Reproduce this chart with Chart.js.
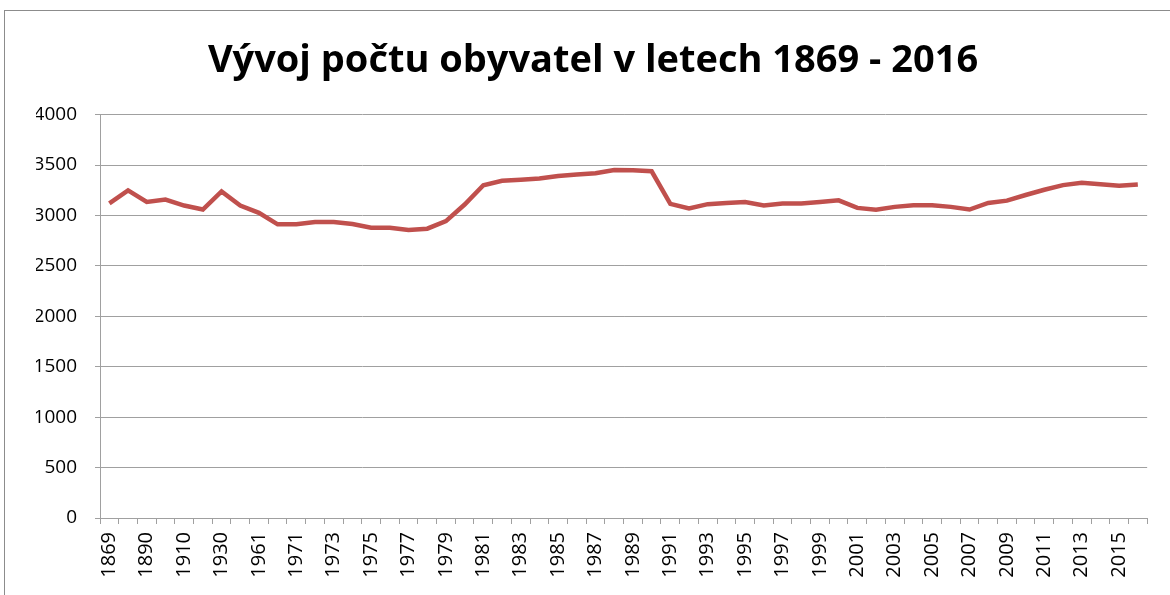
<!DOCTYPE html>
<html>
<head>
<meta charset="utf-8">
<script src="https://cdn.jsdelivr.net/npm/chart.js@4/dist/chart.umd.min.js"></script>
<style>
  html, body { margin: 0; padding: 0; background: #fff; }
  #wrap { width: 1170px; height: 595px; position: relative; }
</style>
</head>
<body>
<div id="wrap"><canvas id="popChart" width="1170" height="595"></canvas></div>
<script>
// Roky sčítání / evidence
const years = [
    '1869', '1880', '1890', '1900', '1910', '1921', '1930', '1950', '1961', '1970',
    '1971', '1972', '1973', '1974', '1975', '1976', '1977', '1978', '1979', '1980',
    '1981', '1982', '1983', '1984', '1985', '1986', '1987', '1988', '1989', '1990',
    '1991', '1992', '1993', '1994', '1995', '1996', '1997', '1998', '1999', '2000',
    '2001', '2002', '2003', '2004', '2005', '2006', '2007', '2008', '2009', '2010',
    '2011', '2012', '2013', '2014', '2015', '2016'
];

// Počet obyvatel
const population = [
    3120, 3248, 3134, 3157, 3098, 3059, 3238, 3098, 3026, 2912,
    2912, 2935, 2935, 2915, 2879, 2879, 2856, 2869, 2944, 3108,
    3300, 3343, 3353, 3366, 3392, 3405, 3418, 3451, 3448, 3438,
    3115, 3069, 3112, 3124, 3134, 3098, 3118, 3118, 3134, 3150,
    3075, 3056, 3085, 3101, 3101, 3085, 3059, 3124, 3147, 3203,
    3255, 3301, 3323, 3310, 3294, 3307
];

const yTicks = [0, 500, 1000, 1500, 2000, 2500, 3000, 3500, 4000];

const chartTitle = 'Vývoj počtu obyvatel v letech 1869 - 2016';

const FONT = "'Open Sans', 'Noto Sans', sans-serif";
const GRID = '#a0a0a0';

// rámeček kolem celého grafu
const frame = {
    id: 'frame',
    beforeDraw(chart) {
        const ctx = chart.ctx;
        ctx.save();
        ctx.strokeStyle = '#8c8c8c';
        ctx.lineWidth = 1;
        ctx.strokeRect(4.5, 10.5, chart.width + 20, chart.height + 20);
        ctx.restore();
    }
};

new Chart(document.getElementById('popChart'), {
    type: 'line',
    data: {
        labels: years,
        datasets: [{
            data: population,
            borderColor: '#c0504d',
            borderWidth: 4.5,
            pointRadius: 0,
            tension: 0,
            fill: false
        }]
    },
    options: {
        responsive: false,
        animation: false,
        layout: { padding: { left: 36, right: 20, top: 0, bottom: 0 } },
        plugins: {
            legend: { display: false },
            tooltip: { enabled: false },
            title: {
                display: true,
                text: chartTitle,
                color: '#000',
                font: { family: FONT, size: 38, weight: 'bold' },
                padding: { top: 38, bottom: 31 }
            }
        },
        scales: {
            x: {
                offset: true,
                grid: {
                    offset: true,
                    drawOnChartArea: false,
                    drawTicks: true,
                    tickLength: 6,
                    color: GRID
                },
                border: { display: true, color: GRID },
                ticks: {
                    autoSkip: false,
                    minRotation: 90,
                    maxRotation: 90,
                    padding: 8,
                    color: '#000',
                    font: { family: FONT, size: 20 },
                    callback: function(val, i) {
                        return i % 2 === 0 ? this.getLabelForValue(val) : '';
                    }
                },
                afterFit: s => { s.height = 77; }
            },
            y: {
                min: 0,
                max: 4000,
                afterBuildTicks: s => { s.ticks = yTicks.map(v => ({ value: v })); },
                grid: {
                    color: GRID,
                    lineWidth: 1,
                    tickLength: 5
                },
                border: { display: true, color: GRID },
                ticks: {
                    padding: 18,
                    color: '#000',
                    font: { family: FONT, size: 19 },
                    callback: v => String(v)
                },
                afterFit: s => { s.width = 64; }
            }
        }
    },
    plugins: [frame]
});
</script>
</body>
</html>
